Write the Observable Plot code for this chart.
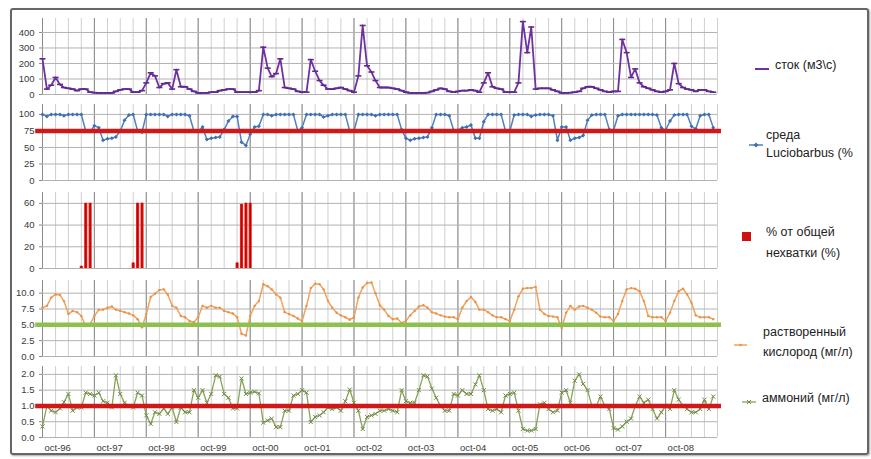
<!DOCTYPE html>
<html><head><meta charset="utf-8">
<script src="https://cdn.jsdelivr.net/npm/d3@7"></script>
<script src="https://cdn.jsdelivr.net/npm/@observablehq/plot@0.6"></script>
<style>
html,body{margin:0;padding:0;background:#fff;}
#wrap{position:relative;width:871px;height:459px;overflow:hidden;font-family:"Liberation Sans",Arial,sans-serif;background:#fff;}
#frame{position:absolute;left:10px;top:8px;width:855px;height:443px;border:2px solid #666;border-radius:3px;box-shadow:1px 1px 2px rgba(0,0,0,.35);z-index:10;pointer-events:none;}
.leg{position:absolute;font-size:12.5px;color:#222;white-space:nowrap;}
.icon{position:absolute;}
</style></head><body><div id="wrap"><div id="frame"></div></div>
<script>
// ---------- DATA ----------
const xTickLabels = ["oct-96","oct-97","oct-98","oct-99","oct-00","oct-01","oct-02","oct-03","oct-04","oct-05","oct-06","oct-07","oct-08"];

// monthly values, Oct-1996 .. Sep-2009
const stock = [
230,35,60,110,65,45,40,35,25,35,35,15,
12,10,10,10,10,20,30,35,35,15,15,25,
75,140,120,45,70,75,35,160,50,50,35,20,
10,10,10,15,15,25,30,35,35,15,15,15,
15,15,25,305,170,115,135,230,45,40,35,20,
15,15,225,150,90,60,35,35,40,45,35,25,
15,120,445,185,145,90,45,45,45,40,35,25,
15,10,10,10,10,12,20,30,40,35,20,15,
20,25,25,30,25,15,75,140,50,40,35,15,
15,15,75,470,270,435,35,40,40,40,30,20,
10,10,12,15,20,40,50,50,40,30,20,15,
20,20,355,270,110,165,75,50,40,30,20,15,
20,30,200,70,45,35,30,20,30,30,20,15];

const habitat = [
100,97,100,100,100,98,100,100,100,100,75,74,
83,80,61,63,64,66,75,91,99,100,75,73,
100,100,100,100,100,97,100,100,100,100,98,75,
74,81,62,64,65,66,77,90,97,97,58,53,
70,81,82,100,100,98,100,100,100,100,100,75,
80,100,100,100,100,96,98,100,100,100,100,75,
75,100,100,100,100,98,100,100,100,100,100,77,
64,61,63,64,65,66,80,100,100,100,98,76,
76,80,81,84,64,64,89,100,100,100,100,75,
75,99,100,100,100,97,99,100,100,100,98,61,
81,81,61,64,65,68,91,99,100,100,100,77,
76,98,100,100,100,100,100,100,100,100,99,80,
76,90,99,100,100,100,82,78,98,100,100,80];

const deficit = [
0,0,0,0,0,0,0,0,0,2,60,60,
0,0,0,0,0,0,0,0,0,5,60,60,
0,0,0,0,0,0,0,0,0,0,0,0,
0,0,0,0,0,0,0,0,0,5,59,60,
60,0,0,0,0,0,0,0,0,0,0,0,
0,0,0,0,0,0,0,0,0,0,0,0,
0,0,0,0,0,0,0,0,0,0,0,0,
0,0,0,0,0,0,0,0,0,0,0,0,
0,0,0,0,0,0,0,0,0,0,0,0,
0,0,0,0,0,0,0,0,0,0,0,0,
0,0,0,0,0,0,0,0,0,0,0,0,
0,0,0,0,0,0,0,0,0,0,0,0,
0,0,0,0,0,0,0,0,0,0,0,0];

const oxygen = [
7.7,8.0,9.3,9.8,9.7,8.75,6.7,7.2,7.0,6.4,4.8,5.1,
6.4,7.4,7.4,7.7,7.9,7.4,7.2,7.0,6.8,6.5,5.9,4.6,
6.7,9.4,9.9,10.5,10.6,9.8,8.0,7.7,6.4,6.2,5.6,5.4,
6.2,8.0,7.7,8.0,7.7,7.7,7.2,7.0,6.8,6.2,3.6,3.3,
6.4,8.0,8.75,11.4,11.1,10.6,9.8,9.3,7.0,6.7,6.4,6.0,
5.6,8.0,10.8,11.5,11.4,10.6,8.75,7.7,6.9,6.5,6.2,5.8,
6.2,9.3,10.9,11.6,11.7,10.0,8.1,7.4,6.4,5.9,6.0,5.3,
5.6,6.5,7.2,7.9,8.1,7.7,7.0,6.8,6.5,6.3,6.2,6.2,
5.9,7.7,8.75,9.4,8.6,7.4,7.4,7.0,6.5,6.2,6.2,5.9,
5.6,7.4,9.5,10.7,10.8,10.8,11.0,7.4,6.7,6.4,6.3,6.2,
4.5,6.9,8.0,7.4,7.9,8.0,7.7,7.4,6.9,6.3,6.2,6.2,
5.6,6.7,8.75,10.6,10.8,10.7,10.3,8.75,6.4,6.2,6.2,6.2,
5.6,6.9,8.75,10.3,10.7,9.8,8.5,6.5,6.2,6.2,6.2,5.9];

const ammonium = [
0.35,1.0,0.85,0.8,0.92,1.12,1.38,0.85,0.95,0.95,1.42,1.38,
1.33,1.42,1.15,1.1,0.95,1.97,1.38,1.1,1.0,0.95,1.42,1.33,
0.7,0.43,0.8,0.75,0.92,0.75,0.95,0.49,0.95,0.8,0.8,1.5,
1.26,1.5,1.1,1.38,1.97,1.93,1.38,1.26,0.92,0.92,1.87,1.38,
1.42,1.45,1.4,0.47,0.54,0.6,0.33,0.33,0.85,0.85,1.33,1.38,
1.5,1.42,0.49,0.65,0.7,0.8,0.95,0.9,0.95,0.85,1.15,1.52,
1.1,0.85,0.27,0.65,0.7,0.75,0.85,0.85,0.9,0.85,0.8,1.5,
1.15,1.1,1.1,1.5,1.97,1.93,1.55,1.26,1.0,0.85,0.85,1.38,
1.33,1.5,1.38,1.38,1.68,1.97,1.5,0.9,0.85,0.9,0.8,1.33,
1.38,1.42,0.85,0.27,0.22,0.22,0.27,1.05,1.1,0.9,0.8,0.85,
1.42,1.5,1.1,1.8,2.0,1.7,1.5,1.0,1.0,1.3,1.0,0.9,
0.3,0.25,0.35,0.5,0.6,1.0,1.3,1.1,1.2,0.9,0.6,0.8,
1.0,0.9,1.5,1.2,1.0,0.9,0.8,0.8,0.9,1.2,0.9,1.3];

const habitatLimit = [75];
const oxygenLimit = [5];
const ammoniumLimit = [1];

const stockTicks = [0,100,200,300,400];
const habitatTicks = [0,25,50,75,100];
const deficitTicks = [0,20,40,60];
const oxygenTicks = [0,2.5,5,7.5,10];
const ammoniumTicks = [0,0.5,1,1.5,2];

// ---------- BUILD ----------
const monthStart = new Date(Date.UTC(1996, 9, 1));
const monthEnd = new Date(Date.UTC(2009, 9, 1));
const months = d3.utcMonth.range(monthStart, monthEnd);
const table = arr => months.map((date, i) => ({date, value: arr[i]}));
const quarters = d3.utcMonth.every(3).range(monthStart, d3.utcDay.offset(monthEnd, 1));
const years = d3.utcMonth.range(monthStart, monthEnd, 12);
const ruleExtent = {x1: d3.utcDay.offset(monthStart, -48), x2: d3.utcDay.offset(monthEnd, 28)};
const wrap = document.getElementById("wrap");
const FONT = "'Liberation Sans', Arial, sans-serif";

const dash = {draw(ctx, size) { const r = Math.sqrt(size / Math.PI); ctx.moveTo(-r, 0); ctx.lineTo(r, 0); }};

function panel({top, mt, inner, mb, ymax, ticks, fmt, marks}) {
  const svg = Plot.plot({
    width: 740, height: mt + inner + mb,
    marginLeft: 42, marginRight: 23, marginTop: mt, marginBottom: mb,
    x: {type: "utc", domain: [monthStart, monthEnd], axis: null},
    y: {domain: [0, ymax], axis: null},
    style: {background: "none", fontFamily: FONT, fontSize: "9.5px", color: "#3a3a3a", overflow: "visible"},
    marks: [
      Plot.ruleX(quarters, {stroke: "#cfcfcf", strokeWidth: 1}),
      Plot.ruleX(years, {stroke: "#8a8a8a", strokeWidth: 1}),
      Plot.ruleY(ticks, {stroke: "#b2b2b2", strokeWidth: 1}),
      Plot.axisY(ticks, {tickSize: 3, tickPadding: 5, tickFormat: fmt, label: null, stroke: "#888"}),
      ...marks
    ]
  });
  svg.style.position = "absolute";
  svg.style.left = "0px";
  svg.style.top = top + "px";
  wrap.appendChild(svg);
}

const intFmt = d => String(d);
const oneDec = d3.format(".1f");

// Panel 1: stock
const stockData = table(stock);
panel({top: 13, mt: 5, inner: 76, mb: 6, ymax: 490, ticks: stockTicks, fmt: intFmt, marks: [
  Plot.line(stockData, {x: "date", y: "value", stroke: "#7030a0", strokeWidth: 1.8}),
  Plot.dot(stockData, {x: "date", y: "value", symbol: dash, r: 3, stroke: "#5e2a8c", strokeWidth: 1.6})
]});

// Panel 2: habitat
const habitatData = table(habitat);
panel({top: 100, mt: 4, inner: 76, mb: 6, ymax: 115, ticks: habitatTicks, fmt: intFmt, marks: [
  Plot.line(habitatData, {x: "date", y: "value", stroke: "#4f81bd", strokeWidth: 1.5}),
  Plot.dot(habitatData, {x: "date", y: "value", symbol: "diamond2", r: 1.8, fill: "#3f6fae", stroke: "none"}),
  Plot.ruleY(habitatLimit, {...ruleExtent, stroke: "#d01818", strokeWidth: 4.5})
]});

// Panel 3: deficit
const deficitData = table(deficit).filter(d => d.value > 0);
panel({top: 186, mt: 6, inner: 76, mb: 6, ymax: 70, ticks: deficitTicks, fmt: intFmt, marks: [
  Plot.ruleX(deficitData, {x: "date", y1: 0, y2: "value", stroke: "#e8302a", strokeWidth: 3.2}),
  Plot.ruleX(deficitData, {x: "date", y1: 0, y2: "value", stroke: "#c80000", strokeWidth: 1.6})
]});

// Panel 4: oxygen
const oxygenData = table(oxygen);
panel({top: 274, mt: 6, inner: 76, mb: 5, ymax: 12, ticks: oxygenTicks, fmt: oneDec, marks: [
  Plot.line(oxygenData, {x: "date", y: "value", stroke: "#f2a25a", strokeWidth: 1.5}),
  Plot.dot(oxygenData, {x: "date", y: "value", r: 1.2, fill: "#e8924a", stroke: "none"}),
  Plot.ruleY(oxygenLimit, {...ruleExtent, stroke: "#8dc04e", strokeWidth: 4.5})
]});

// Panel 5: ammonium
const ammoniumData = table(ammonium);
const labelData = xTickLabels.map((label, i) => ({date: years[i], label}));
panel({top: 361, mt: 5, inner: 71, mb: 22, ymax: 2.25, ticks: ammoniumTicks, fmt: oneDec, marks: [
  Plot.line(ammoniumData, {x: "date", y: "value", stroke: "#86a356", strokeWidth: 1.3}),
  Plot.dot(ammoniumData, {x: "date", y: "value", symbol: "times", r: 2, stroke: "#6f8a48", strokeWidth: 1}),
  Plot.ruleY(ammoniumLimit, {...ruleExtent, stroke: "#d01818", strokeWidth: 4.5}),
  Plot.text(labelData, {x: "date", text: "label", frameAnchor: "bottom", dy: 13, dx: 2, textAnchor: "start", fontSize: 9.5, fill: "#3a3a3a"})
]});

// ---------- LEGENDS ----------
function addIcon(left, top, w, h, inner) {
  const d = document.createElement("div");
  d.className = "icon";
  d.style.left = left + "px"; d.style.top = top + "px";
  d.innerHTML = `<svg width="${w}" height="${h}">${inner}</svg>`;
  wrap.appendChild(d);
}
function addText(left, top, lh, lines) {
  const d = document.createElement("div");
  d.className = "leg";
  d.style.left = left + "px"; d.style.top = top + "px"; d.style.lineHeight = lh + "px";
  d.innerHTML = lines.join("<br>");
  wrap.appendChild(d);
}
const legendLabels = [["сток (м3\\с)"], ["среда", "Luciobarbus (%"], ["% от общей", "нехватки (%)"], ["растворенный", "кислород (мг/л)"], ["аммоний (мг/л)"]];

addIcon(754, 60, 16, 10, `<line x1="1" y1="5" x2="15" y2="5" stroke="#7030a0" stroke-width="2"/>`);
addText(775, 57, 16, legendLabels[0]);

addIcon(748, 136, 16, 10, `<line x1="1" y1="5" x2="15" y2="5" stroke="#4f81bd" stroke-width="1.5"/><path d="M8,2.5L10.5,5L8,7.5L5.5,5Z" fill="#3f6fae"/>`);
addText(766, 126, 18, legendLabels[1]);

addIcon(742, 228, 10, 10, `<rect x="0" y="0" width="9" height="9" fill="#d01010"/>`);
addText(766, 222, 21, legendLabels[2]);

addIcon(733, 336, 16, 10, `<line x1="1" y1="5" x2="14" y2="5" stroke="#f2a25a" stroke-width="1.5"/><circle cx="7.5" cy="5" r="1.3" fill="#e8924a"/>`);
addText(763, 322, 20, legendLabels[3]);

addIcon(741, 393, 16, 10, `<line x1="1" y1="5" x2="15" y2="5" stroke="#86a356" stroke-width="1.3"/><path d="M6,3L10,7M10,3L6,7" stroke="#6f8a48" stroke-width="1"/>`);
addText(762, 389, 18, legendLabels[4]);
</script></body></html>
